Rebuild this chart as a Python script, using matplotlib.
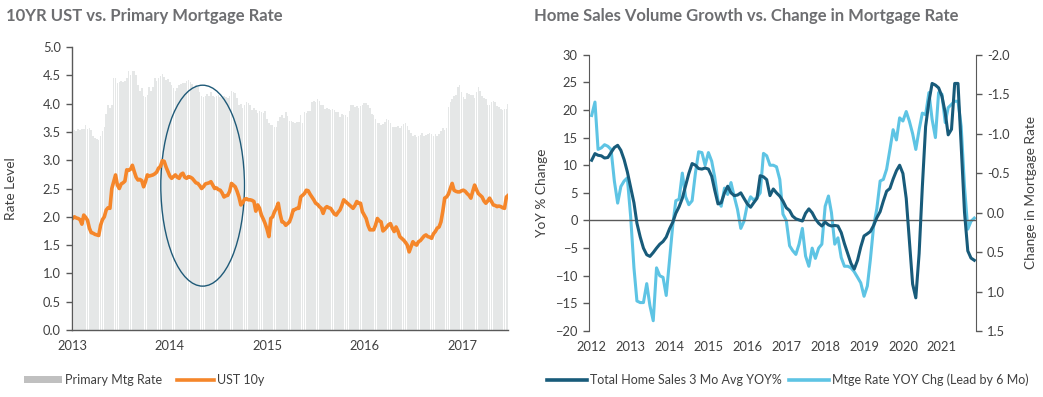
import numpy as np
import pandas as pd
import matplotlib
matplotlib.use('Agg')
import matplotlib.pyplot as plt
import matplotlib.dates as mdates
from matplotlib.patches import Ellipse, Patch
from matplotlib.lines import Line2D

plt.rcParams['font.family'] = ['Lato', 'DejaVu Sans']

# ---- left chart: weekly data, starting 2013-01-03 ----
mtg_rate = [
    3.53, 3.53, 3.52, 3.55, 3.53, 3.56, 3.55, 3.62, 3.56, 3.57,
    3.54, 3.42, 3.40, 3.38, 3.35, 3.42, 3.51, 3.59, 3.81, 3.98,
    3.93, 3.97, 4.46, 4.45, 4.37, 4.39, 4.40, 4.38, 4.40, 4.45,
    4.58, 4.51, 4.57, 4.57, 4.50, 4.32, 4.22, 4.28, 4.13, 4.12,
    4.16, 4.30, 4.22, 4.29, 4.46, 4.40, 4.46, 4.48, 4.53, 4.47,
    4.42, 4.43, 4.39, 4.32, 4.28, 4.23, 4.28, 4.33, 4.35, 4.37,
    4.36, 4.40, 4.41, 4.38, 4.34, 4.27, 4.33, 4.29, 4.20, 4.14,
    4.12, 4.14, 4.17, 4.14, 4.20, 4.14, 4.12, 4.13, 4.15, 4.12,
    4.10, 4.13, 4.12, 4.10, 4.14, 4.23, 4.20, 4.18, 4.10, 3.97,
    4.00, 3.92, 3.98, 4.02, 4.01, 3.97, 3.89, 3.93, 3.89, 3.83,
    3.87, 3.85, 3.83, 3.87, 3.73, 3.66, 3.63, 3.62, 3.59, 3.59,
    3.69, 3.76, 3.80, 3.75, 3.86, 3.78, 3.69, 3.70, 3.67, 3.65,
    3.67, 3.68, 3.80, 3.66, 3.85, 3.84, 3.87, 3.87, 4.02, 4.04,
    4.02, 4.08, 4.04, 3.98, 3.98, 3.91, 3.93, 3.91, 3.89, 3.91,
    3.89, 3.86, 3.85, 3.76, 3.82, 3.79, 3.80, 3.76, 3.87, 3.98,
    3.97, 3.94, 3.95, 3.93, 3.95, 3.97, 4.01, 4.01, 3.97, 3.92,
    3.81, 3.79, 3.72, 3.65, 3.65, 3.62, 3.64, 3.68, 3.73, 3.71,
    3.66, 3.59, 3.58, 3.59, 3.61, 3.57, 3.61, 3.64, 3.66, 3.60,
    3.54, 3.48, 3.42, 3.44, 3.41, 3.43, 3.45, 3.48, 3.43, 3.44,
    3.46, 3.48, 3.46, 3.42, 3.47, 3.42, 3.47, 3.52, 3.57, 3.54,
    3.57, 3.94, 4.03, 4.08, 4.13, 4.16, 4.30, 4.32, 4.20, 4.12,
    4.09, 4.19, 4.17, 4.15, 4.16, 4.10, 4.21, 4.30, 4.23, 4.14,
    4.10, 4.08, 3.97, 3.97, 4.03, 4.05, 4.02, 3.95, 3.94, 3.91,
    3.89, 3.90, 3.91, 4.00,
]
ust_10y = [
    1.97, 2.00, 1.98, 1.97, 1.95, 1.87, 2.03, 1.99, 1.94, 1.80,
    1.72, 1.71, 1.69, 1.68, 1.67, 1.85, 1.95, 2.00, 2.12, 2.16,
    2.15, 2.50, 2.62, 2.74, 2.56, 2.50, 2.58, 2.60, 2.63, 2.83,
    2.82, 2.84, 2.91, 2.80, 2.70, 2.65, 2.66, 2.64, 2.53, 2.62,
    2.74, 2.72, 2.73, 2.74, 2.76, 2.79, 2.86, 2.89, 2.99, 2.98,
    2.88, 2.80, 2.72, 2.68, 2.71, 2.74, 2.70, 2.68, 2.75, 2.77,
    2.70, 2.68, 2.71, 2.70, 2.68, 2.64, 2.60, 2.59, 2.55, 2.50,
    2.53, 2.58, 2.59, 2.60, 2.62, 2.56, 2.50, 2.51, 2.48, 2.47,
    2.42, 2.35, 2.37, 2.38, 2.45, 2.59, 2.56, 2.53, 2.45, 2.35,
    2.21, 2.25, 2.31, 2.32, 2.30, 2.30, 2.29, 2.27, 2.10, 2.21,
    2.15, 2.03, 1.96, 1.88, 1.78, 1.65, 1.97, 2.00, 2.09, 2.15,
    2.24, 2.05, 1.91, 1.90, 1.85, 1.88, 1.91, 2.00, 2.12, 2.13,
    2.15, 2.15, 2.35, 2.38, 2.41, 2.47, 2.46, 2.40, 2.35, 2.30,
    2.24, 2.22, 2.18, 2.15, 2.06, 2.15, 2.18, 2.16, 2.15, 2.10,
    2.05, 2.03, 2.08, 2.12, 2.20, 2.30, 2.27, 2.24, 2.21, 2.18,
    2.15, 2.20, 2.27, 2.24, 2.24, 2.09, 2.03, 1.97, 1.85, 1.77,
    1.77, 1.77, 1.85, 1.97, 1.93, 1.91, 1.75, 1.78, 1.82, 1.86,
    1.88, 1.80, 1.74, 1.82, 1.75, 1.65, 1.62, 1.59, 1.55, 1.50,
    1.38, 1.47, 1.56, 1.52, 1.50, 1.56, 1.58, 1.62, 1.66, 1.68,
    1.65, 1.64, 1.62, 1.70, 1.74, 1.80, 1.82, 1.91, 2.10, 2.33,
    2.35, 2.40, 2.50, 2.59, 2.47, 2.45, 2.44, 2.44, 2.46, 2.47,
    2.45, 2.41, 2.38, 2.33, 2.45, 2.56, 2.48, 2.41, 2.38, 2.35,
    2.28, 2.24, 2.28, 2.33, 2.27, 2.21, 2.20, 2.18, 2.19, 2.18,
    2.16, 2.15, 2.35, 2.38,
]
weeks = pd.date_range('2013-01-03', periods=len(mtg_rate), freq='7D')

# ---- right chart: monthly data, starting Jan 2012 ----
home_sales_yoy = [
    10.9, 12.1, 11.8, 11.7, 11.3, 11.4, 12.3, 13.2, 13.6, 12.7, 11.0, 8.8,
    6.0, 3.2, -0.5, -3.0, -5.0, -6.2, -6.5, -5.8, -5.0, -4.3, -3.8, -3.0,
    -1.5, -0.3, 1.3, 2.5, 4.0, 6.3, 8.5, 10.3, 10.0, 9.4, 9.3, 9.5,
    9.3, 8.0, 5.5, 3.0, 3.2, 5.0, 6.2, 5.0, 4.5, 4.6, 5.0, 4.0,
    3.0, 2.4, 3.2, 4.0, 8.1, 7.9, 7.4, 4.5, 5.7, 5.0, 4.4, 3.5,
    2.3, 1.8, 0.8, 0.3, 0.1, -0.1, 1.3, 2.1, 1.4, 0.3, -0.5, -1.0,
    -0.3, -0.8, -1.0, -0.9, -1.0, -2.2, -4.2, -6.0, -7.8, -8.8, -7.2, -4.8,
    -2.8, -2.4, -2.0, -0.9, 0.5, 1.6, 3.5, 5.3, 5.8, 7.5, 9.0, 10.0,
    8.5, 4.0, -3.5, -11.5, -14.0, -6.0, 6.0, 17.0, 21.5, 24.8, 24.5, 24.0,
    22.5, 19.5, 15.5, 16.5, 24.8, 24.8, 13.5, 1.5, -5.5, -6.8, -7.2,
]
mtge_rate_chg = [
    -1.23, -1.40, -0.80, -0.82, -0.86, -0.84, -0.80, -0.40, -0.12, -0.33, -0.40, -0.44,
    0.05, 0.70, 1.12, 1.14, 1.14, 0.90, 1.18, 1.37, 0.70, 0.80, 0.82, 1.05,
    0.60, 0.15, -0.15, -0.17, -0.50, -0.20, -0.10, -0.15, -0.50, -0.77, -0.76, -0.60,
    -0.76, -0.65, -0.45, -0.15, -0.08, -0.31, -0.23, -0.38, -0.20, -0.04, 0.20, 0.11,
    -0.10, -0.20, -0.16, -0.19, -0.25, -0.75, -0.72, -0.60, -0.60, -0.58, -0.42, 0.02,
    0.10, 0.42, 0.48, 0.53, 0.40, 0.20, 0.55, 0.68, 0.45, 0.58, 0.45, 0.40,
    -0.08, -0.21, 0.00, 0.40, 0.32, 0.57, 0.68, 0.68, 0.70, 0.75, 0.82, 0.89,
    1.06, 0.93, 0.60, 0.17, -0.05, -0.40, -0.42, -0.55, -0.80, -1.05, -0.92, -1.20,
    -1.16, -1.28, -1.16, -1.00, -0.80, -1.05, -1.26, -1.24, -1.52, -1.18, -0.95, -1.52,
    -1.50, -1.14, -1.33, -1.37, -1.41, -1.41, -1.09, -0.33, 0.21, 0.11, 0.07,
]
months = pd.date_range('2012-01-01', periods=len(home_sales_yoy), freq='MS')

GREY_TXT = '#404040'
SPINE = '#595959'
ORANGE = '#f5862a'
DARK = '#185b7a'
LIGHT = '#5ec4e4'
TICK_FS = 9.3
LABEL_FS = 9.8

fig = plt.figure(figsize=(10.43, 3.97), dpi=100)
W, H = 1043, 397

# ================= left chart =================
ax1 = fig.add_axes([72 / W, 1 - 330 / H, 436 / W, 283 / H])
ax1.bar(weeks, mtg_rate, width=5.8, color='#e5e7e7', linewidth=0)
ax1.plot(weeks, ust_10y, color=ORANGE, lw=2.6, solid_joinstyle='round')
ell = Ellipse((mdates.date2num(pd.Timestamp('2014-05-05')), 2.55),
              width=313, height=3.55, fill=False, edgecolor='#1f5a78', lw=1.0)
ax1.add_patch(ell)
ax1.set_xlim(pd.Timestamp('2013-01-01'), pd.Timestamp('2017-06-21'))
ax1.set_ylim(0, 5)
ax1.set_yticks(np.arange(0, 5.01, 0.5))
ax1.yaxis.set_major_formatter(plt.FuncFormatter(lambda v, p: f'{v:.1f}'))
ax1.xaxis.set_major_locator(mdates.YearLocator())
ax1.xaxis.set_major_formatter(mdates.DateFormatter('%Y'))
for s in ['top', 'right']:
    ax1.spines[s].set_visible(False)
for s in ['left', 'bottom']:
    ax1.spines[s].set_color(SPINE)
    ax1.spines[s].set_linewidth(1.0)
ax1.tick_params(axis='y', length=4, width=1, color=SPINE, pad=4,
                labelsize=TICK_FS, labelcolor=GREY_TXT)
ax1.tick_params(axis='x', length=0, pad=7, labelsize=TICK_FS, labelcolor=GREY_TXT)
ax1.set_ylabel('Rate Level', fontsize=LABEL_FS, color=GREY_TXT)
ax1.yaxis.set_label_coords(-0.126, 0.5)

fig.text(6 / W, 1 - 16 / H, '10YR UST vs. Primary Mortgage Rate', fontsize=12,
         fontweight='bold', color='#6d6e71', va='center', ha='left')

h1 = [Patch(facecolor='#c0c0c0', edgecolor='none'),
      Line2D([], [], color=ORANGE, lw=2.6)]
fig.legend(h1, ['Primary Mtg Rate', 'UST 10y'], loc='center left',
           bbox_to_anchor=(24 / W, 1 - 380 / H), ncol=2, frameon=False,
           fontsize=9, handlelength=3.0, handleheight=0.55, handletextpad=0.25,
           columnspacing=1.2, borderpad=0, borderaxespad=0, labelcolor=GREY_TXT)

# ================= right chart =================
ax2 = fig.add_axes([589 / W, 1 - 331 / H, 387 / W, (331 - 54.7) / H])
ax3 = ax2.twinx()
ax2.axhline(0, color=SPINE, lw=1.0, zorder=1)
ax2.plot(months, home_sales_yoy, color=DARK, lw=2.2, zorder=3)
ax3.plot(months, mtge_rate_chg, color=LIGHT, lw=2.2, zorder=2)
ax2.set_zorder(ax3.get_zorder() + 1)
ax2.patch.set_visible(False)

ax2.set_xlim(pd.Timestamp('2011-12-07'), pd.Timestamp('2021-11-17'))
ax2.set_ylim(-20, 30)
ax2.set_yticks(np.arange(-20, 31, 5))
ax3.set_ylim(1.5, -2.0)
ax3.set_yticks(np.arange(-2.0, 1.51, 0.5))
ax3.yaxis.set_major_formatter(plt.FuncFormatter(lambda v, p: f'{v:.1f}'))
ax2.xaxis.set_major_locator(mdates.YearLocator())
ax2.xaxis.set_major_formatter(mdates.DateFormatter('%Y'))
for a in (ax2, ax3):
    for s in ['top', 'bottom']:
        a.spines[s].set_visible(False)
ax2.spines['right'].set_visible(False)
ax3.spines['left'].set_visible(False)
ax2.spines['left'].set_color(SPINE)
ax3.spines['right'].set_color(SPINE)
ax2.tick_params(axis='y', length=4, width=1, color=SPINE, pad=4,
                labelsize=TICK_FS, labelcolor=GREY_TXT)
ax3.tick_params(axis='y', length=4, width=1, color=SPINE, pad=4,
                labelsize=TICK_FS, labelcolor=GREY_TXT)
ax2.tick_params(axis='x', length=0, pad=7, labelsize=TICK_FS, labelcolor=GREY_TXT)
ax2.set_ylabel('YoY % Change', fontsize=LABEL_FS, color=GREY_TXT)
ax2.yaxis.set_label_coords(-0.106, 0.5)
ax3.set_ylabel('Change in Mortgage Rate', fontsize=LABEL_FS, color=GREY_TXT,
               rotation=90)
ax3.yaxis.set_label_coords(1.127, 0.5)

fig.text(534 / W, 1 - 16 / H,
         'Home Sales Volume Growth vs. Change in Mortgage Rate', fontsize=12,
         fontweight='bold', color='#6d6e71', va='center', ha='left')

h2 = [Line2D([], [], color=DARK, lw=2.6), Line2D([], [], color=LIGHT, lw=2.6)]
fig.legend(h2, ['Total Home Sales 3 Mo Avg YOY%',
                'Mtge Rate YOY Chg (Lead by 6 Mo)'], loc='center left',
           bbox_to_anchor=(547 / W, 1 - 380 / H), ncol=2, frameon=False,
           fontsize=9, handlelength=3.2, handletextpad=0.25,
           columnspacing=0.6, borderpad=0, borderaxespad=0, labelcolor=GREY_TXT)

fig.savefig('out.png', dpi=100)
